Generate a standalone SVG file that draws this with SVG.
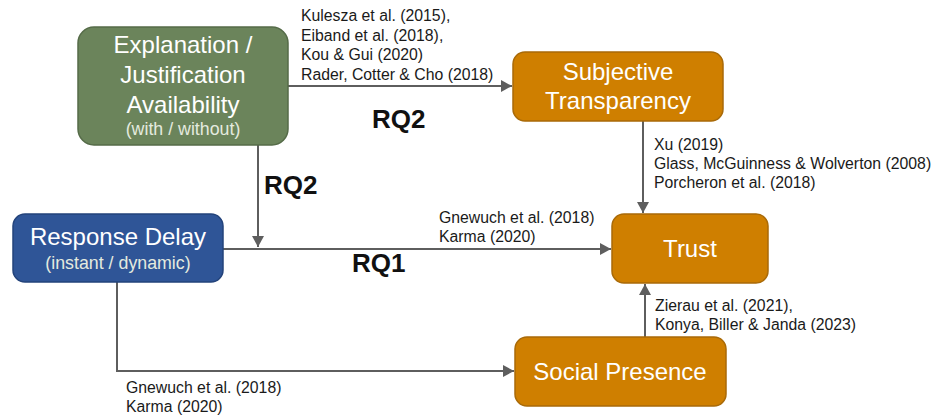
<svg xmlns="http://www.w3.org/2000/svg" width="935" height="415" viewBox="0 0 935 415">
<defs>
<marker id="arr" markerWidth="12" markerHeight="12" refX="11" refY="6" orient="auto" markerUnits="userSpaceOnUse">
<path d="M0,0 L11,6 L0,12 Z" fill="#5e5e5e"/>
</marker>
<style>
.green{fill:#6b845b;stroke:#556b48;stroke-width:1.5}
.blue{fill:#2f5597;stroke:#23437b;stroke-width:1.5}
.orange{fill:#cf7f00;stroke:#a96a08;stroke-width:1.5}
.lbl{font-family:"Liberation Sans",Arial,sans-serif;font-size:24px;fill:#ffffff;text-anchor:middle}
.sub{font-family:"Liberation Sans",Arial,sans-serif;font-size:17.8px;fill:#e4eadf;text-anchor:middle}
.ref{font-family:"Liberation Sans",Arial,sans-serif;font-size:15.8px;fill:#1a1a1a}
.rq{font-family:"Liberation Sans",Arial,sans-serif;font-size:26px;font-weight:bold;fill:#111111}
.conn{fill:none;stroke:#5e5e5e;stroke-width:2}
</style>
</defs>
<rect width="935" height="415" fill="#ffffff"/>
<g id="connectors">
<line class="conn" x1="288" y1="86" x2="512" y2="86" marker-end="url(#arr)"/>
<line class="conn" x1="258" y1="145" x2="258" y2="247" marker-end="url(#arr)"/>
<line class="conn" x1="223" y1="249" x2="611" y2="249" marker-end="url(#arr)"/>
<line class="conn" x1="643" y1="121" x2="643" y2="213" marker-end="url(#arr)"/>
<line class="conn" x1="645" y1="337" x2="645" y2="284" marker-end="url(#arr)"/>
<path class="conn" d="M117,282 V371 H514" marker-end="url(#arr)"/>
</g>
<g id="explanation">
<rect class="green" x="78" y="27" width="210" height="118" rx="16"/>
<text class="lbl" x="183" y="53">Explanation /</text>
<text class="lbl" x="183" y="83">Justification</text>
<text class="lbl" x="183" y="113">Availability</text>
<text class="sub" x="183" y="135">(with / without)</text>
</g>
<g id="subjective">
<rect class="orange" x="513" y="52" width="210" height="69" rx="12"/>
<text class="lbl" x="618" y="80">Subjective</text>
<text class="lbl" x="618" y="109">Transparency</text>
</g>
<g id="response">
<rect class="blue" x="13" y="214" width="210" height="68" rx="12"/>
<text class="lbl" x="118" y="245">Response Delay</text>
<text class="sub" x="118" y="269">(instant / dynamic)</text>
</g>
<g id="trust">
<rect class="orange" x="612" y="214" width="156" height="69" rx="12"/>
<text class="lbl" x="690" y="257">Trust</text>
</g>
<g id="social">
<rect class="orange" x="515" y="337" width="211" height="69" rx="12"/>
<text class="lbl" x="620" y="380">Social Presence</text>
</g>
<g id="labels">
<text class="ref" x="301" y="21">Kulesza et al. (2015),</text>
<text class="ref" x="301" y="41">Eiband et al. (2018),</text>
<text class="ref" x="301" y="60">Kou &amp; Gui (2020)</text>
<text class="ref" x="301" y="80">Rader, Cotter &amp; Cho (2018)</text>
<text class="rq" x="372" y="128">RQ2</text>
<text class="rq" x="264" y="194">RQ2</text>
<text class="rq" x="352" y="272">RQ1</text>
<text class="ref" x="439" y="223">Gnewuch et al. (2018)</text>
<text class="ref" x="439" y="242">Karma (2020)</text>
<text class="ref" x="654" y="150">Xu (2019)</text>
<text class="ref" x="654" y="169">Glass, McGuinness &amp; Wolverton (2008)</text>
<text class="ref" x="654" y="188">Porcheron et al. (2018)</text>
<text class="ref" x="655" y="311">Zierau et al. (2021),</text>
<text class="ref" x="655" y="330">Konya, Biller &amp; Janda (2023)</text>
<text class="ref" x="126" y="393">Gnewuch et al. (2018)</text>
<text class="ref" x="126" y="412">Karma (2020)</text>
</g>
</svg>
